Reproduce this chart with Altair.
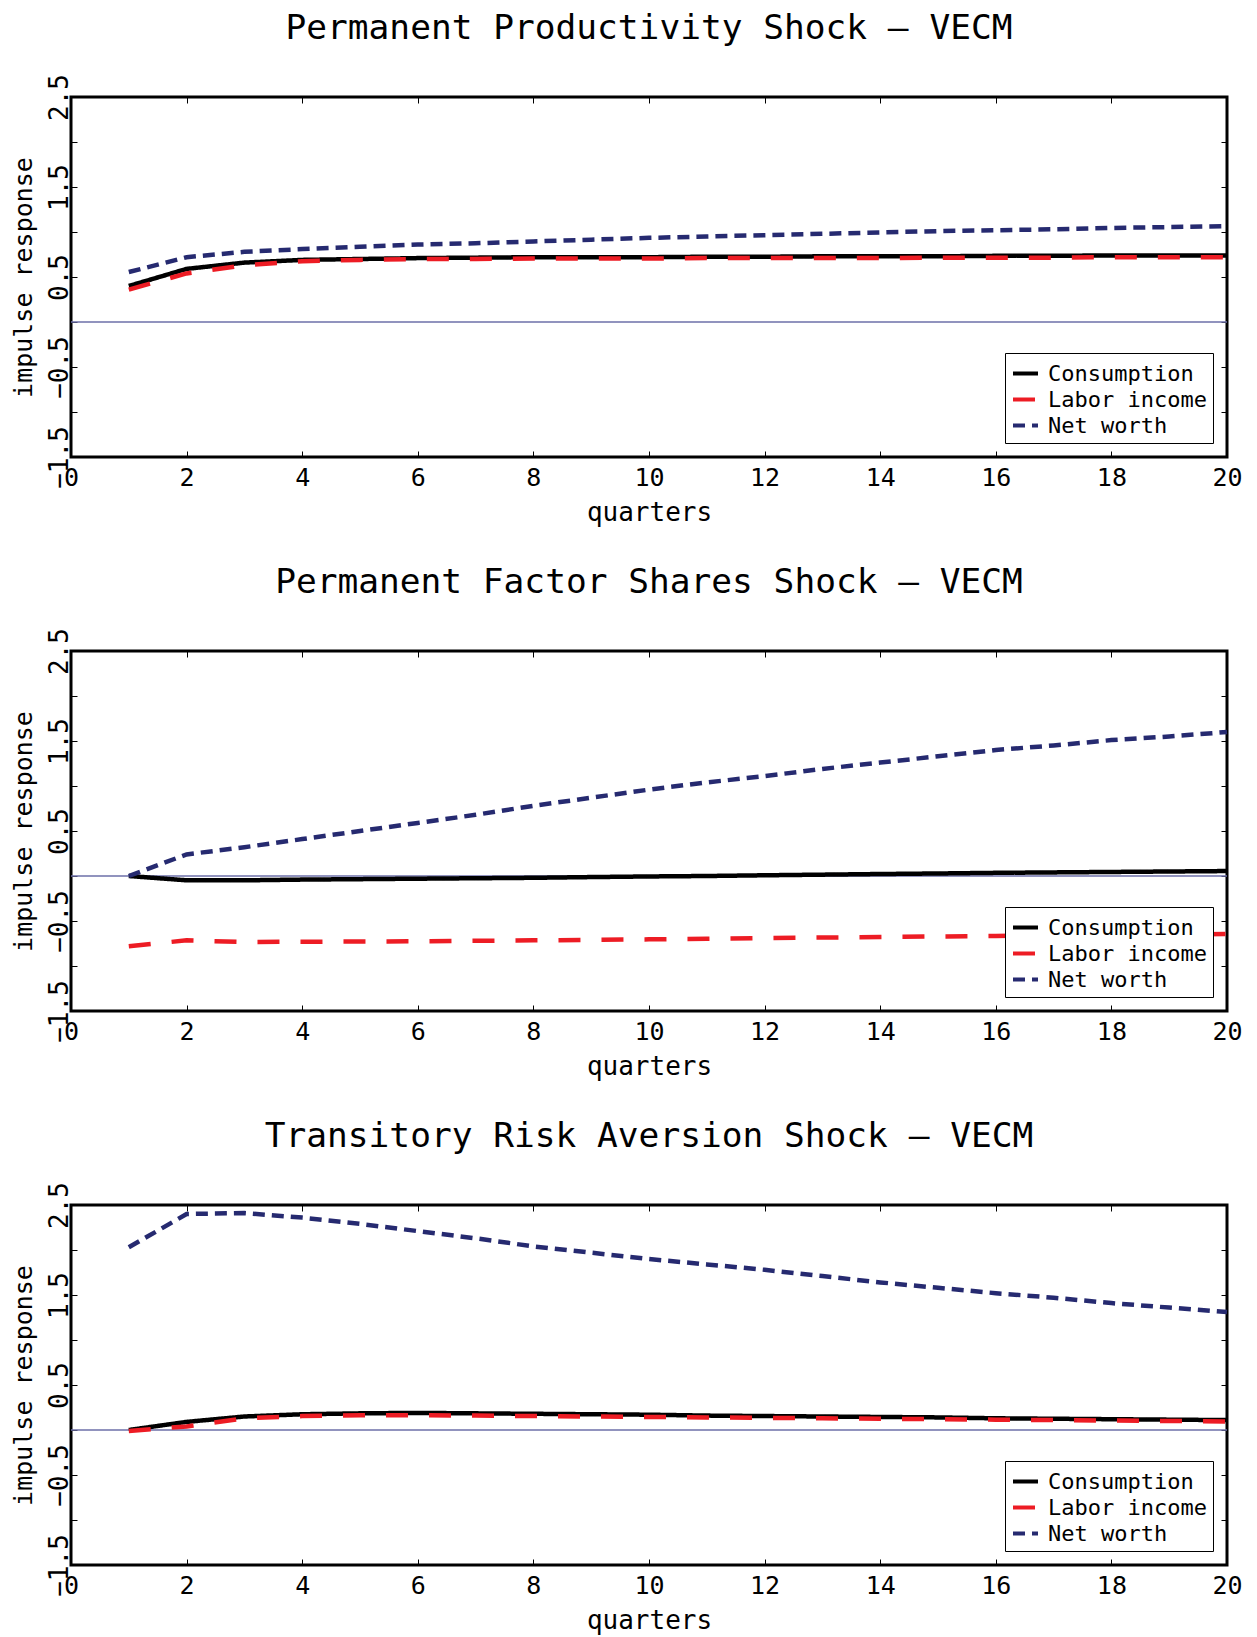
import altair as alt
import pandas as pd

# Impulse responses (quarters 1..20) for three structural shocks
quarters = list(range(1, 21))
series_names = ["Consumption", "Labor income", "Net worth"]
series_colors = ["#000000", "#ed1c24", "#262a70"]
series_dashes = [[1, 0], [22, 21], [12, 7]]

panel_titles = [
    "Permanent Productivity Shock – VECM",
    "Permanent Factor Shares Shock – VECM",
    "Transitory Risk Aversion Shock – VECM",
]

productivity_consumption = [0.40, 0.59, 0.66, 0.69, 0.70, 0.71, 0.715, 0.72, 0.72, 0.72,
                            0.725, 0.725, 0.73, 0.73, 0.73, 0.735, 0.735, 0.74, 0.74, 0.74]
productivity_labor = [0.36, 0.54, 0.63, 0.675, 0.69, 0.70, 0.70, 0.705, 0.705, 0.705,
                      0.71, 0.71, 0.71, 0.71, 0.715, 0.715, 0.715, 0.72, 0.72, 0.72]
productivity_networth = [0.555, 0.72, 0.78, 0.81, 0.835, 0.86, 0.875, 0.895, 0.915, 0.935,
                         0.95, 0.965, 0.98, 0.995, 1.01, 1.02, 1.03, 1.045, 1.055, 1.065]

shares_consumption = [0.0, -0.048, -0.048, -0.04, -0.035, -0.03, -0.025, -0.02, -0.012, -0.005,
                      0.0, 0.008, 0.015, 0.022, 0.028, 0.035, 0.04, 0.045, 0.05, 0.055]
shares_labor = [-0.78, -0.715, -0.733, -0.73, -0.728, -0.726, -0.72, -0.715, -0.71, -0.704,
                -0.697, -0.69, -0.684, -0.678, -0.672, -0.667, -0.66, -0.655, -0.65, -0.645]
shares_networth = [0.0, 0.24, 0.32, 0.41, 0.50, 0.59, 0.68, 0.78, 0.87, 0.96,
                   1.04, 1.11, 1.19, 1.26, 1.33, 1.40, 1.45, 1.51, 1.55, 1.60]

risk_consumption = [0.0, 0.09, 0.15, 0.175, 0.185, 0.19, 0.185, 0.18, 0.175, 0.17,
                    0.16, 0.155, 0.15, 0.145, 0.14, 0.13, 0.125, 0.12, 0.115, 0.11]
risk_labor = [-0.01, 0.04, 0.13, 0.155, 0.165, 0.165, 0.16, 0.155, 0.15, 0.145,
              0.14, 0.135, 0.13, 0.125, 0.12, 0.115, 0.11, 0.105, 0.10, 0.095]
risk_networth = [2.03, 2.40, 2.41, 2.36, 2.29, 2.21, 2.13, 2.04, 1.97, 1.90,
                 1.84, 1.78, 1.71, 1.64, 1.58, 1.52, 1.47, 1.41, 1.36, 1.31]

x_ticks = [0, 2, 4, 6, 8, 10, 12, 14, 16, 18, 20]
y_ticks = [-1.5, -1.0, -0.5, 0.0, 0.5, 1.0, 1.5, 2.0, 2.5]
zero_level = [0.0]

FONT = "DejaVu Sans Mono"
W, H = 1156, 360

x_scale = alt.Scale(domain=[0, 20], nice=False, zero=False)
y_scale = alt.Scale(domain=[-1.5, 2.5], nice=False, zero=False)
color_scale = alt.Scale(domain=series_names, range=series_colors)
dash_scale = alt.Scale(domain=series_names, range=series_dashes)


def tick_axis(orient, offset, values):
    # tick-only axis shifted onto the opposite frame edge so ticks point inward
    return alt.Axis(orient=orient, offset=offset, values=values, labels=False, title=None,
                    domain=False, grid=False, ticks=True, tickSize=6,
                    tickColor="black", tickWidth=1)


x_label_axis = alt.Axis(orient="bottom", values=x_ticks, labelFont=FONT, labelFontSize=25,
                        labelColor="black", labelFlush=False, labelPadding=8,
                        labelOverlap=False, ticks=False, tickSize=0, domain=False, grid=False,
                        title="quarters", titleFont=FONT, titleFontSize=26,
                        titleFontWeight="normal", titleColor="black", titlePadding=9)

y_label_axis = alt.Axis(orient="left", values=y_ticks,
                        labelExpr="datum.value % 1 != 0 ? format(datum.value, '.1f') : ''",
                        labelFont=FONT, labelFontSize=26, labelColor="black",
                        labelAngle=270, labelAlign="center", labelBaseline="alphabetic",
                        labelPadding=4, labelFlush=False, labelOverlap=False,
                        ticks=False, tickSize=0, domain=False, grid=False,
                        title="impulse response", titleFont=FONT, titleFontSize=25,
                        titleFontWeight="normal", titleColor="black", titleAngle=270,
                        titlePadding=10)

legend = alt.Legend(title=None, orient="bottom-right", offset=14, fillColor="white",
                    strokeColor="black", padding=6, symbolType="stroke", symbolSize=625,
                    symbolStrokeWidth=4, labelFont=FONT, labelFontSize=22,
                    labelColor="black", labelOffset=8, labelLimit=300, rowPadding=0)


def panel(title, cons, labor, net):
    rows = []
    for name, vals in zip(series_names, (cons, labor, net)):
        for q, v in zip(quarters, vals):
            rows.append({"quarter": q, "response": v, "series": name})
    df = pd.DataFrame(rows)

    zero = alt.Chart(pd.DataFrame({"level": zero_level})).mark_rule(
        color="#6d6fa8", strokeWidth=1.3
    ).encode(y=alt.Y("level:Q", scale=y_scale, axis=tick_axis("right", -W, y_ticks)))

    def series_line(name, x_axis, y_axis):
        return alt.Chart(df).transform_filter(
            alt.datum.series == name
        ).mark_line(strokeWidth=4.5, strokeCap="butt").encode(
            x=alt.X("quarter:Q", scale=x_scale, axis=x_axis),
            y=alt.Y("response:Q", scale=y_scale, axis=y_axis),
            color=alt.Color("series:N", scale=color_scale, legend=legend),
            strokeDash=alt.StrokeDash("series:N", scale=dash_scale, legend=legend),
        )

    cons_line = series_line("Consumption", x_label_axis, y_label_axis)
    labor_line = series_line("Labor income", tick_axis("top", -H, x_ticks),
                             tick_axis("left", -W, y_ticks))
    net_line = series_line("Net worth", tick_axis("bottom", -H, x_ticks), None)

    return alt.layer(zero, cons_line, labor_line, net_line).resolve_axis(
        x="independent", y="independent"
    ).properties(
        width=W, height=H,
        title=alt.Title(title, font=FONT, fontSize=34.5, fontWeight="normal",
                        color="black", anchor="middle", frame="group",
                        baseline="alphabetic", offset=0),
    )


chart = alt.vconcat(
    panel(panel_titles[0], productivity_consumption, productivity_labor, productivity_networth),
    panel(panel_titles[1], shares_consumption, shares_labor, shares_networth),
    panel(panel_titles[2], risk_consumption, risk_labor, risk_networth),
    spacing=36,
).resolve_scale(
    color="independent", strokeDash="independent"
).resolve_legend(
    color="independent", strokeDash="independent"
).properties(
    padding={"left": 9, "top": 9, "right": 5, "bottom": 5},
    background="white",
).configure_view(
    stroke="black", strokeWidth=3
)

chart.save("out.html", embed_options={"renderer": "svg", "actions": False})
